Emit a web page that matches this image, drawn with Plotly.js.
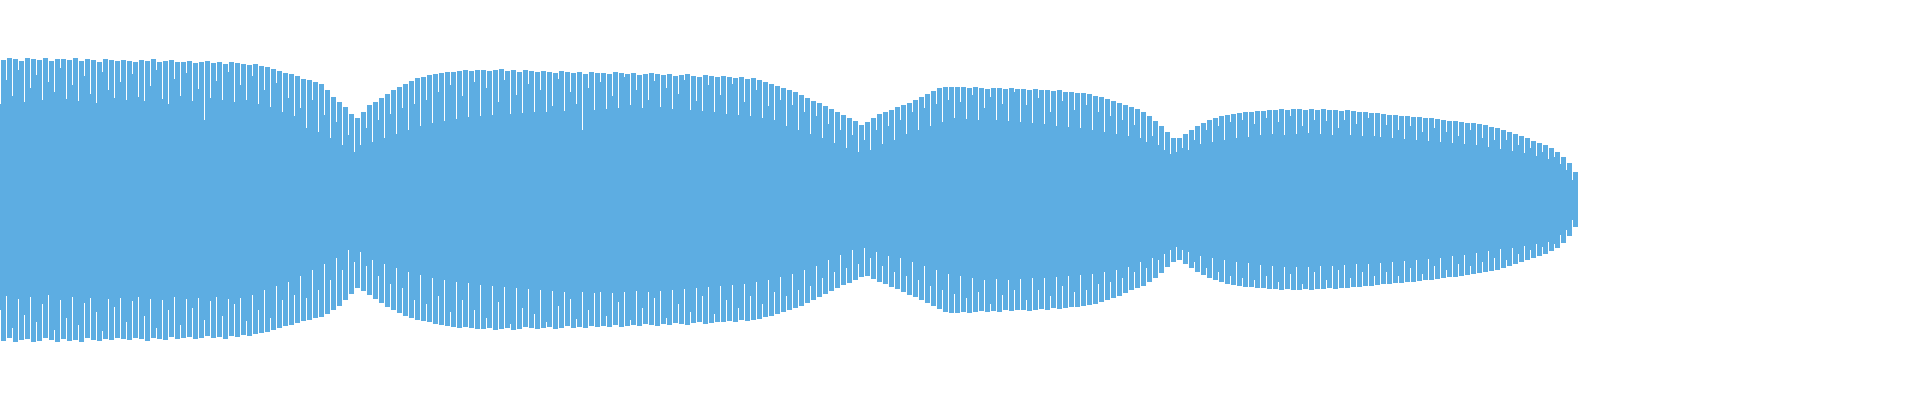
<!DOCTYPE html>
<html>
<head>
<meta charset="utf-8">
<script src="https://cdn.plot.ly/plotly-3.0.1.min.js"></script>
<style>html,body{margin:0;padding:0;background:#fff;}#chart{width:1920px;height:400px;}</style>
</head>
<body>
<div id="chart"></div>
<script>
// Peak (outer) amplitudes per oscillation cycle, upper side
const peakTop = [
140,142,141,139,142,141,140,142,139,141,
141,140,142,139,141,140,138,141,140,139,
140,139,138,140,139,141,138,139,140,138,
138,139,137,138,139,137,138,136,138,137,
136,135,136,134,133,131,129,127,126,124,
121,120,118,116,110,103,98,93,86,82,
88,95,98,102,106,110,113,116,119,122,
123,125,126,127,128,128,129,130,129,130,
130,129,130,131,129,130,128,130,129,128,
129,128,127,129,128,127,128,126,128,127,
127,126,128,127,126,127,125,126,127,126,
125,126,124,125,126,124,123,125,124,123,
124,123,122,123,121,122,120,118,116,114,
112,110,108,105,102,99,97,94,91,88,
85,82,79,75,78,82,86,88,90,93,
95,97,100,103,106,109,112,113,113,113,
113,112,113,112,111,112,112,111,112,111,
111,110,111,110,110,109,110,108,108,107,
107,106,104,103,101,99,97,95,93,91,
88,84,79,74,68,62,62,66,70,74,
77,80,82,84,85,86,87,88,88,89,
89,90,90,91,90,91,91,90,91,90,
91,90,90,89,90,89,88,88,87,87,
86,85,85,84,84,83,83,82,82,81,
80,79,79,78,77,77,76,75,73,72,
70,68,66,64,62,59,57,55,52,48,
43,37,28];

// Peak (outer) amplitudes per cycle, lower side
const peakBottom = [
141,138,142,140,139,142,141,138,140,142,
139,141,140,142,138,140,141,139,140,138,
139,140,138,139,141,138,139,140,137,139,
138,137,139,138,136,138,137,139,136,137,
135,136,134,133,132,130,128,126,125,123,
121,120,118,117,114,110,106,100,94,88,
91,95,99,103,107,110,113,116,118,120,
121,122,124,125,126,127,128,127,128,129,
129,128,130,129,128,130,129,127,128,129,
128,127,129,128,126,128,127,128,126,127,
126,127,125,127,126,125,126,124,125,126,
124,125,123,124,125,123,122,124,123,122,
122,121,122,120,121,120,119,117,116,114,
112,110,108,106,103,100,97,94,91,88,
85,83,80,77,76,79,82,84,87,89,
92,95,97,100,103,106,109,112,113,113,
112,113,112,111,112,111,112,110,111,110,
110,111,110,109,110,108,109,108,107,107,
106,105,104,102,100,98,96,93,90,88,
86,82,78,73,67,62,60,64,68,72,
75,78,80,82,84,85,86,87,87,88,
88,89,89,90,89,90,90,89,90,89,
89,88,89,88,88,87,87,86,86,85,
84,84,83,83,82,82,81,80,80,79,
78,77,77,76,75,74,73,72,71,70,
68,66,64,62,60,58,56,54,51,48,
43,36,27];

// Inner (between-peak) amplitudes per cycle, upper side
const innerTop = [
96,120,104,130,98,112,125,100,118,108,
132,101,115,99,124,106,97,128,110,102,
118,100,126,103,99,114,130,101,96,121,
104,127,99,111,80,102,119,100,128,98,
115,100,124,96,110,93,117,88,102,84,
92,72,100,68,85,62,78,55,65,48,
55,72,58,80,62,86,66,92,70,96,
74,100,77,108,79,115,81,104,83,118,
84,112,85,98,120,86,105,87,116,88,
110,88,94,121,89,108,96,70,112,90,
118,91,104,92,123,95,110,92,100,119,
93,112,91,106,120,90,99,89,115,88,
105,86,116,85,98,84,110,82,94,80,
100,74,95,70,88,66,84,62,76,57,
70,52,65,48,60,50,70,56,74,60,
80,66,88,70,92,74,96,78,100,82,
98,81,105,80,92,103,80,96,79,108,
78,95,77,102,76,88,74,99,73,90,
72,95,70,88,68,84,66,80,64,75,
62,58,64,55,50,46,48,52,50,60,
56,70,58,74,60,78,62,80,63,76,
65,82,66,78,65,84,66,74,67,80,
66,79,65,72,80,65,76,64,82,64,
63,75,62,70,61,74,60,68,59,72,
58,68,57,64,56,70,55,62,53,60,
51,60,49,55,47,52,44,48,41,43,
36,30,20];

// Inner (between-peak) amplitudes per cycle, lower side
const innerBottom = [
110,96,128,99,115,97,122,104,95,130,
100,118,97,125,103,98,112,131,99,107,
98,122,101,97,116,99,128,100,110,97,
125,99,108,98,120,101,97,116,99,104,
98,121,95,110,90,118,86,100,82,95,
76,98,70,90,64,80,58,70,50,62,
52,66,60,76,64,84,68,88,72,100,
75,104,78,96,80,112,82,100,83,110,
85,118,86,102,87,124,88,108,89,114,
90,122,91,106,92,99,119,92,110,93,
92,116,93,102,92,120,91,108,92,98,
91,118,90,104,89,112,88,96,87,114,
86,100,85,108,84,96,82,104,80,92,
77,96,74,90,70,86,66,78,60,72,
55,68,50,64,48,58,52,66,56,72,
58,76,62,80,66,86,70,90,74,94,
76,98,78,92,80,104,79,95,80,90,
79,100,78,90,78,96,77,86,76,92,
75,90,74,84,72,82,70,78,67,72,
62,68,58,60,54,50,47,50,52,62,
56,68,58,72,60,76,62,78,63,80,
65,76,66,82,67,74,67,84,67,72,
66,80,66,70,65,78,64,72,64,76,
63,72,62,76,61,68,60,74,59,66,
58,70,56,64,55,66,53,62,51,58,
49,60,48,54,46,50,44,47,42,44,
35,30,20];

const cycles = peakTop.map((_, i) => i);
const COLOR = '#5DADE2';

const innerTrace = {
  type: 'bar',
  x: cycles,
  base: innerBottom.map(v => -v),
  y: innerTop.map((v, i) => v + innerBottom[i]),
  width: 1,
  offset: 0,
  marker: {color: COLOR, line: {width: 0}},
  hoverinfo: 'skip'
};

const peakTrace = {
  type: 'bar',
  x: cycles,
  base: peakBottom.map(v => -v),
  y: peakTop.map((v, i) => v + peakBottom[i]),
  width: 5 / 6,
  offset: 1 / 6,
  marker: {color: COLOR, line: {width: 0}},
  hoverinfo: 'skip'
};

const layout = {
  width: 1920,
  height: 400,
  margin: {l: 0, r: 0, t: 0, b: 0, pad: 0},
  paper_bgcolor: '#ffffff',
  plot_bgcolor: '#ffffff',
  showlegend: false,
  barmode: 'overlay',
  bargap: 0,
  xaxis: {visible: false, range: [0, 320], fixedrange: true},
  yaxis: {visible: false, range: [-200, 200], fixedrange: true}
};

Plotly.newPlot('chart', [innerTrace, peakTrace], layout, {displayModeBar: false, staticPlot: true});
</script>
</body>
</html>
